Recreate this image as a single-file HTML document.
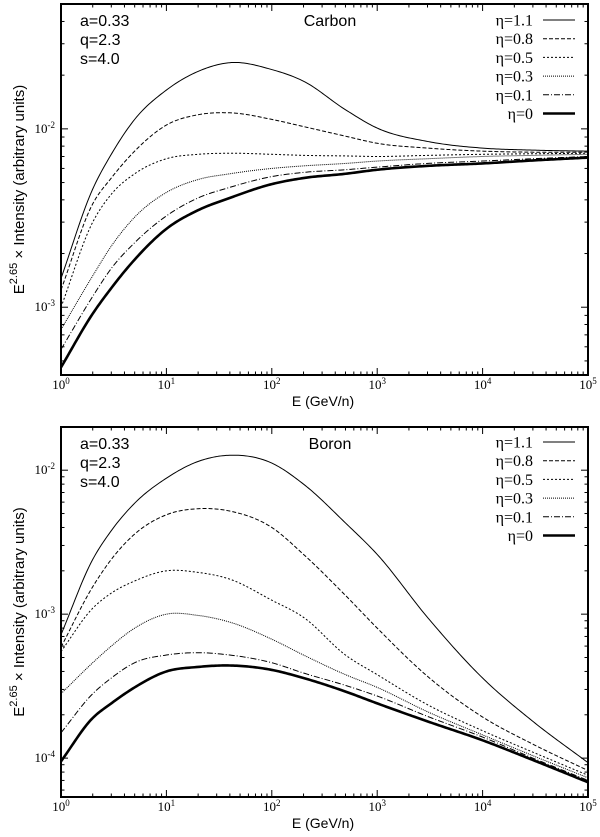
<!DOCTYPE html>
<html><head><meta charset="utf-8">
<style>
html,body{margin:0;padding:0;background:#fff;}
svg{display:block;font-family:"Liberation Sans",sans-serif;}
.tk{font-family:"Liberation Serif",serif;font-size:13px;}
</style></head>
<body>
<svg id="chart" width="600" height="837" viewBox="0 0 600 837" xmlns="http://www.w3.org/2000/svg"></svg>
<script>
const energies = [1,2,3,5,10,20,40,100,200,500,1000,3000,1e4,3e4,1e5];
const etaLabels = ["η=1.1","η=0.8","η=0.5","η=0.3","η=0.1","η=0"];
const carbon11 = [1.45e-3,4.6e-3,7.2e-3,0.0113,0.0165,0.021,0.0235,0.0215,0.0185,0.0128,0.0101,0.0085,0.0078,0.0076,0.0075];
const carbon08 = [1.25e-3,3.8e-3,5.3e-3,7.5e-3,0.0105,0.0120,0.0123,0.0113,0.0103,0.0091,0.0083,0.0078,0.0075,0.0074,0.0074];
const carbon05 = [1.0e-3,3.0e-3,4.3e-3,5.6e-3,6.8e-3,7.2e-3,7.3e-3,7.2e-3,7.1e-3,7.05e-3,7.0e-3,7.1e-3,7.2e-3,7.25e-3,7.3e-3];
const carbon03 = [7.5e-4,1.5e-3,2.2e-3,3.2e-3,4.4e-3,5.2e-3,5.6e-3,6.0e-3,6.2e-3,6.4e-3,6.6e-3,6.8e-3,7.0e-3,7.1e-3,7.2e-3];
const carbon01 = [5.8e-4,1.15e-3,1.65e-3,2.3e-3,3.25e-3,4.1e-3,4.7e-3,5.4e-3,5.7e-3,5.9e-3,6.1e-3,6.4e-3,6.6e-3,6.8e-3,7.0e-3];
const carbon00 = [4.6e-4,9.2e-4,1.28e-3,1.85e-3,2.75e-3,3.5e-3,4.1e-3,4.9e-3,5.3e-3,5.6e-3,5.9e-3,6.2e-3,6.4e-3,6.65e-3,6.9e-3];
const boron11 = [7.2e-4,2.4e-3,3.8e-3,5.9e-3,8.8e-3,0.0115,0.0127,0.0112,8.0e-3,4.3e-3,2.6e-3,9.5e-4,3.6e-4,1.8e-4,9.3e-5];
const boron08 = [5.9e-4,1.55e-3,2.4e-3,3.6e-3,4.9e-3,5.4e-3,5.2e-3,4.0e-3,2.6e-3,1.35e-3,8.0e-4,3.7e-4,1.93e-4,1.25e-4,8.2e-5];
const boron05 = [5.5e-4,1.1e-3,1.4e-3,1.7e-3,2.0e-3,1.95e-3,1.75e-3,1.25e-3,9.5e-4,5.2e-4,3.8e-4,2.35e-4,1.55e-4,1.1e-4,7.6e-5];
const boron03 = [2.8e-4,4.6e-4,6.0e-4,8.0e-4,1.0e-3,9.8e-4,8.8e-4,6.7e-4,5.2e-4,3.8e-4,3.1e-4,2.1e-4,1.45e-4,1.04e-4,7.3e-5];
const boron01 = [1.5e-4,2.8e-4,3.6e-4,4.6e-4,5.2e-4,5.4e-4,5.2e-4,4.6e-4,3.9e-4,3.2e-4,2.7e-4,1.95e-4,1.4e-4,1.0e-4,7.0e-5];
const boron00 = [9.5e-5,1.9e-4,2.4e-4,3.1e-4,4.0e-4,4.3e-4,4.4e-4,4.1e-4,3.6e-4,2.9e-4,2.4e-4,1.8e-4,1.33e-4,9.7e-5,6.8e-5];
const xTickExps = [0,1,2,3,4,5];
const carbonYExps = [-3,-2];
const boronYExps = [-4,-3,-2];

const NS="http://www.w3.org/2000/svg";
const svg=document.getElementById('chart');
function mk(tag,attrs,parent){const e=document.createElementNS(NS,tag);for(const k in attrs)e.setAttribute(k,attrs[k]);(parent||svg).appendChild(e);return e;}
const styles=[
 {w:1,d:""},{w:1,d:"4,2"},{w:1,d:"2,2"},{w:1,d:"1,1"},{w:1,d:"6,2,1,2"},{w:2.6,d:""}
];
function smooth(xsL,ysL,n){
  const N=xsL.length,m=new Array(N);
  for(let j=0;j<N;j++){
    if(j==0)m[j]=(ysL[1]-ysL[0])/(xsL[1]-xsL[0]);
    else if(j==N-1)m[j]=(ysL[N-1]-ysL[N-2])/(xsL[N-1]-xsL[N-2]);
    else{const h0=xsL[j]-xsL[j-1],h1=xsL[j+1]-xsL[j];
      const d0=(ysL[j]-ysL[j-1])/h0,d1=(ysL[j+1]-ysL[j])/h1;
      m[j]=(d0*h1+d1*h0)/(h0+h1);}
  }
  const out=[];
  for(let k=0;k<=n;k++){
    const x=xsL[0]+(xsL[N-1]-xsL[0])*k/n;
    let j=0;while(j<N-2&&x>xsL[j+1])j++;
    const h=xsL[j+1]-xsL[j],t=(x-xsL[j])/h;
    const h00=2*t*t*t-3*t*t+1,h10=t*t*t-2*t*t+t,h01=-2*t*t*t+3*t*t,h11=t*t*t-t*t;
    out.push([x,h00*ysL[j]+h10*h*m[j]+h01*ysL[j+1]+h11*h*m[j+1]]);
  }
  return out;
}
function panel(name,title,top,bottom,ymin,ymax,yExps,series,legTop){
  const L=61,R=588;
  const g=mk('g',{});
  
  
  const xl=lv=>L+lv/5*(R-L);
  const yl=lv=>bottom-(lv-ymin)/(ymax-ymin)*(bottom-top);
  const xs=v=>xl(Math.log10(v));
  const ys=v=>yl(Math.log10(v));
  const cp=mk('clipPath',{id:'clip-'+name},g);
  mk('rect',{x:L,y:top,width:R-L,height:bottom-top},cp);
  series.forEach((s,i)=>{
    const pts=smooth(energies.map(Math.log10),s.map(Math.log10),300);
    const d=pts.map((p,k)=>(k?'L':'M')+xl(p[0]).toFixed(2)+','+yl(p[1]).toFixed(2)).join(' ');
    const p=mk('path',{d:d,fill:'none',stroke:'#000','stroke-width':styles[i].w,'stroke-dasharray':styles[i].d,'clip-path':`url(#clip-${name})`},g);
    
    
  });
  const fr=mk('rect',{x:L,y:top,width:R-L,height:bottom-top,fill:'none',stroke:'#000','stroke-width':2},g);
  
  
  xTickExps.forEach(k=>{
    const x=xs(Math.pow(10,k));
    mk('line',{x1:x,x2:x,y1:bottom,y2:bottom-7,stroke:'#000'},g);
    mk('line',{x1:x,x2:x,y1:top,y2:top+7,stroke:'#000'},g);
    if(k<5){for(let m=2;m<10;m++){const xm=xs(m*Math.pow(10,k));
      mk('line',{x1:xm,x2:xm,y1:bottom,y2:bottom-3.5,stroke:'#000'},g);
      mk('line',{x1:xm,x2:xm,y1:top,y2:top+3.5,stroke:'#000'},g);}}
    const t=mk('text',{x:x,y:bottom+14,'text-anchor':'middle',class:'tk'},g);
    
    
    t.innerHTML=`10<tspan dy="-5" font-size="9">${k}</tspan>`;
  });
  for(let k=Math.floor(ymin);k<=Math.ceil(ymax);k++){
    for(let m=1;m<10;m++){
      const v=m*Math.pow(10,k);const lv=Math.log10(v);
      if(lv<ymin||lv>ymax)continue;
      const y=ys(v);const len=m==1?7:3.5;
      mk('line',{x1:L,x2:L+len,y1:y,y2:y,stroke:'#000'},g);
      mk('line',{x1:R,x2:R-len,y1:y,y2:y,stroke:'#000'},g);
    }
  }
  yExps.forEach(k=>{
    const y=ys(Math.pow(10,k));
    const t=mk('text',{x:55,y:y+4,'text-anchor':'end',class:'tk'},g);
    
    
    t.innerHTML=`10<tspan dy="-5" font-size="9">${k}</tspan>`;
  });
  const xt=mk('text',{x:323,y:bottom+31,'text-anchor':'middle','font-size':14},g);
  
  
  xt.textContent='E (GeV/n)';
  const cy=(top+bottom)/2;
  const yt=mk('text',{x:0,y:0,transform:`translate(24,${cy}) rotate(-90)`,'text-anchor':'middle','font-size':15},g);
  
  
  yt.innerHTML='E<tspan dy="-7" font-size="11">2.65</tspan><tspan dy="7"> × Intensity (arbitrary units)</tspan>';
  ["a=0.33","q=2.3","s=4.0"].forEach((s,i)=>{
    const t=mk('text',{x:80,y:top+22+i*19,'font-size':16},g);
    
    
    t.textContent=s;
  });
  const ti=mk('text',{x:330,y:top+22,'text-anchor':'middle','font-size':16},g);
  
  
  ti.textContent=title;
  etaLabels.forEach((s,i)=>{
    const y=legTop+i*18.7;
    const t=mk('text',{x:533,y:y+5.5,'text-anchor':'end','font-size':16,'font-family':'"Liberation Serif",serif'},g);
    
    
    t.textContent=s;
    const l=mk('line',{x1:543,x2:575,y1:y,y2:y,stroke:'#000','stroke-width':styles[i].w,'stroke-dasharray':styles[i].d},g);
    
    
  });
}
panel('carbon','Carbon',4,375,-3.38,-1.30,carbonYExps,[carbon11,carbon08,carbon05,carbon03,carbon01,carbon00],20);
panel('boron','Boron',427,797,-4.27,-1.70,boronYExps,[boron11,boron08,boron05,boron03,boron01,boron00],442);
</script>
</body></html>
